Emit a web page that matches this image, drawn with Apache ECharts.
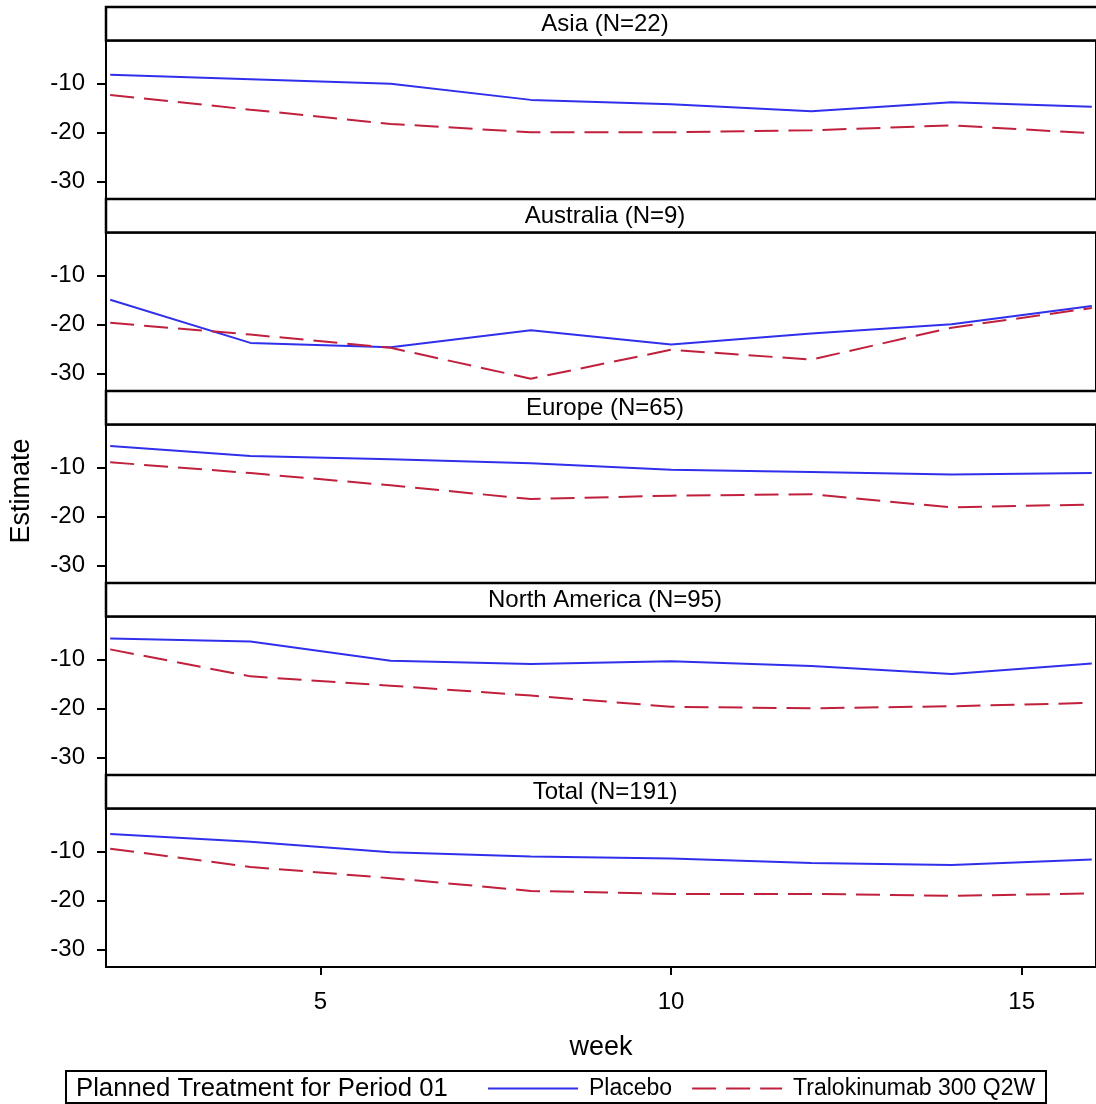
<!DOCTYPE html>
<html>
<head>
<meta charset="utf-8">
<script src="https://cdn.jsdelivr.net/npm/echarts@6/dist/echarts.min.js"></script>
<style>
html,body{margin:0;padding:0;background:#fff;}
#chart{width:1096px;height:1104px;}
</style>
</head>
<body>
<div id="chart"></div>
<script>
// ---- data ----
var weeks = [2, 4, 6, 8, 10, 12, 14, 16];
var regions = ['Asia (N=22)', 'Australia (N=9)', 'Europe (N=65)', 'North America (N=95)', 'Total (N=191)'];
var placeboAsia      = [-8.2, -9.1, -10.0, -13.3, -14.2, -15.6, -13.8, -14.7];
var traloAsia        = [-12.3, -15.3, -18.2, -19.9, -19.9, -19.5, -18.5, -20.1];
var placeboAustralia = [-14.9, -23.7, -24.6, -21.1, -24.0, -21.8, -19.9, -16.2];
var traloAustralia   = [-19.6, -22.0, -24.7, -31.0, -25.1, -27.1, -20.6, -16.6];
var placeboEurope    = [-5.6, -7.6, -8.3, -9.1, -10.4, -10.9, -11.4, -11.1];
var traloEurope      = [-8.9, -11.1, -13.6, -16.4, -15.7, -15.4, -18.1, -17.5];
var placeboNA        = [-5.7, -6.3, -10.2, -10.9, -10.3, -11.3, -12.9, -10.8];
var traloNA          = [-7.9, -13.4, -15.3, -17.3, -19.6, -19.9, -19.5, -18.8];
var placeboTotal     = [-6.4, -8.0, -10.1, -11.0, -11.4, -12.3, -12.7, -11.6];
var traloTotal       = [-9.4, -13.1, -15.4, -18.0, -18.6, -18.6, -19.0, -18.5];
var yTicks = [-30, -20, -10];
var xTicks = [5, 10, 15];
var seriesNames = ['Placebo', 'Tralokinumab 300 Q2W'];
var legendTitle = 'Planned Treatment for Period 01';
var xTitle = 'week';
var yTitle = 'Estimate';

var placeboList = [placeboAsia, placeboAustralia, placeboEurope, placeboNA, placeboTotal];
var traloList = [traloAsia, traloAustralia, traloEurope, traloNA, traloTotal];

// ---- layout ----
var FONT = '"Liberation Sans", Arial, sans-serif';
var LEFT = 106, WIDTH = 993, TOP0 = 7, PERIOD = 192, HEAD = 33.5, PLOT = 158.5;
var BLUE = '#3030EC', RED = '#C0203C';

function pairs(vals) { return weeks.map(function (w, i) { return [w, vals[i]]; }); }

var grids = [], xAxes = [], yAxes = [], series = [], graphics = [];
for (var k = 0; k < regions.length; k++) {
  var hTop = TOP0 + PERIOD * k;
  var last = (k === regions.length - 1);
  grids.push({ left: LEFT, width: WIDTH, top: hTop + HEAD, height: PLOT,
    show: true, borderColor: '#000', borderWidth: 2, backgroundColor: '#fff' });
  xAxes.push({ type: 'value', gridIndex: k, min: 1.94, max: 16.06,
    splitLine: { show: false },
    axisLine: { show: last, lineStyle: { color: '#000', width: 2 } },
    axisTick: { show: last, length: 8, lineStyle: { color: '#000', width: 2 }, customValues: xTicks },
    axisLabel: { show: last, customValues: xTicks, color: '#000', fontSize: 24, fontFamily: FONT, margin: 23 },
    name: last ? xTitle : '', nameLocation: 'middle', nameGap: 67,
    nameTextStyle: { color: '#000', fontSize: 27, fontFamily: FONT } });
  yAxes.push({ type: 'value', gridIndex: k, min: -33.5, max: -1.2,
    splitLine: { show: false },
    axisLine: { show: true, onZero: false, lineStyle: { color: '#000', width: 2 } },
    axisTick: { show: true, length: 9, customValues: yTicks, lineStyle: { color: '#000', width: 2 } },
    axisLabel: { customValues: yTicks, color: '#000', fontSize: 24, fontFamily: FONT, margin: 21 } });
  series.push({ name: seriesNames[0], type: 'line', xAxisIndex: k, yAxisIndex: k,
    data: pairs(placeboList[k]), symbol: 'none', color: BLUE,
    lineStyle: { color: BLUE, width: 2, type: 'solid' } });
  series.push({ name: seriesNames[1], type: 'line', xAxisIndex: k, yAxisIndex: k,
    data: pairs(traloList[k]), symbol: 'none', color: RED,
    lineStyle: { color: RED, width: 2, type: [24, 10] } });
  graphics.push({ type: 'rect', shape: { x: LEFT, y: hTop, width: WIDTH + 10, height: HEAD },
    style: { fill: '#fff', stroke: '#000', lineWidth: 2.5 }, z: 100 });
  graphics.push({ type: 'text', x: 605, y: hTop + HEAD / 2 + 0.5, z: 101,
    style: { text: regions[k], fill: '#000', fontSize: 24, fontFamily: FONT, align: 'center', verticalAlign: 'middle' } });
}
graphics.push({ type: 'text', x: 22, y: 491, rotation: Math.PI / 2, z: 101,
  style: { text: yTitle, fill: '#000', fontSize: 27, fontFamily: FONT, align: 'center', verticalAlign: 'middle' } });
graphics.push({ type: 'rect', shape: { x: 66, y: 1071, width: 980, height: 32 },
  style: { fill: 'none', stroke: '#000', lineWidth: 2 }, z: 90 });
graphics.push({ type: 'text', x: 76, y: 1088.5, z: 101,
  style: { text: legendTitle, fill: '#000', fontSize: 25.7, fontFamily: FONT, align: 'left', verticalAlign: 'middle' } });

var chart = echarts.init(document.getElementById('chart'), null, { renderer: 'canvas' });
chart.setOption({
  animation: false,
  backgroundColor: '#fff',
  grid: grids,
  xAxis: xAxes,
  yAxis: yAxes,
  series: series,
  legend: { data: seriesNames, left: 487, top: 1077, padding: 0, itemWidth: 90, itemHeight: 24, itemGap: 19,
    itemStyle: { opacity: 0 },
    textStyle: { color: '#000', fontSize: 23, fontFamily: FONT, padding: [0, 0, 0, 6] } },
  graphic: graphics
});
</script>
</body>
</html>
